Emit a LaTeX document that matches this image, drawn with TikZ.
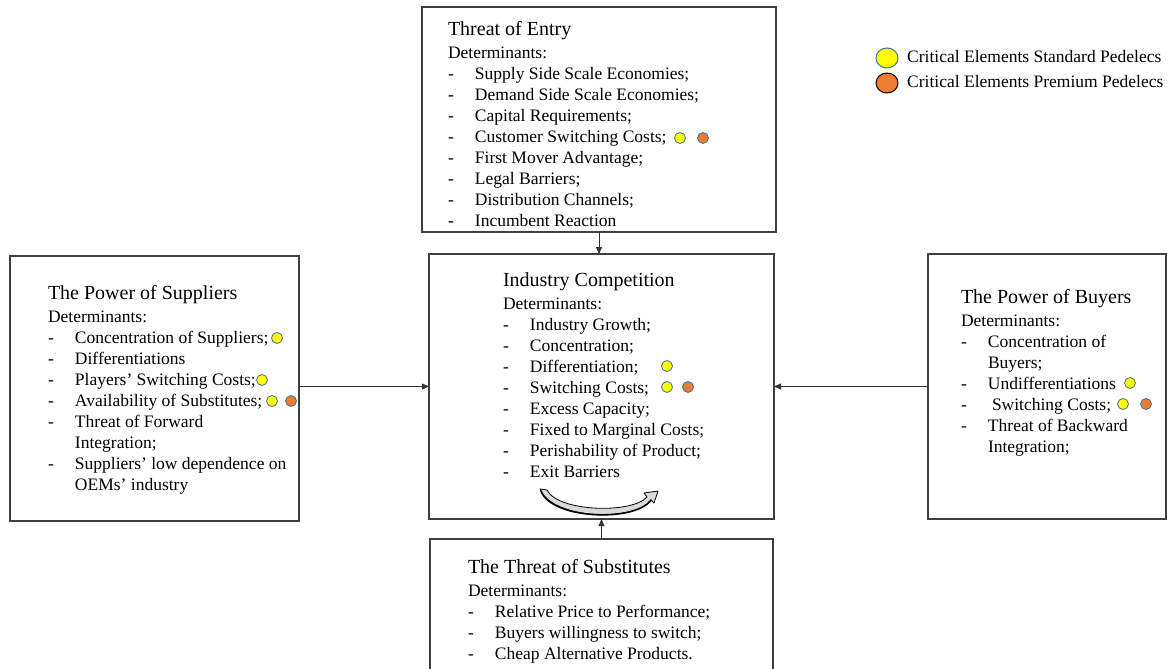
\documentclass[tikz,border=0pt]{standalone}
\usepackage{fontspec}
\setmainfont{Liberation Serif}
\usetikzlibrary{arrows.meta,shapes.geometric}

\definecolor{frame}{HTML}{3F3F3F}
\definecolor{dotyellow}{HTML}{FFFF00}
\definecolor{dotorange}{HTML}{ED7D31}
\definecolor{dotedge}{HTML}{41719C}

% heading of a force box: title, then "Determinants:"
\newcommand\forcehead[1]{{\fontsize{20}{23}\selectfont #1\par}%
  \fontsize{17.5}{23}\selectfont Determinants:\par
  \fontsize{17.5}{21}\selectfont}
% list item with a dash, and a continuation line
\newcommand\itm[1]{\noindent\makebox[27pt][l]{-}#1\par}
\newcommand\cont[1]{\noindent\hspace*{27pt}#1\par}
\newcommand\forcetext[1]{\parbox[t]{330pt}{\raggedright #1}}

\tikzset{
  forcebox/.style={draw=frame, line width=1.1pt, inner sep=0pt, outer sep=0pt},
  forcetxt/.style={inner sep=0pt, outer sep=0pt, anchor=base west},
  link/.style={draw=black!80, line width=0.8pt, -{Triangle[length=7pt,width=6pt]}},
  ydot/.style={circle, fill=dotyellow, draw=dotedge, line width=0.8pt, minimum size=11pt, inner sep=0pt},
  odot/.style={circle, fill=dotorange, draw=dotedge, line width=0.8pt, minimum size=11pt, inner sep=0pt},
  legtxt/.style={inner sep=0pt, anchor=base west, font=\fontsize{17.5}{21}\selectfont},
}

\begin{document}
\begin{tikzpicture}[x=1pt, y=-1pt]
\clip (0,0) rectangle (1171,669);

% boxes of the five forces
\node[forcebox, minimum width=354pt, minimum height=225pt] (entry) at (599,119.5) {};
\node[forcebox, minimum width=345pt, minimum height=265pt] (comp)  at (601.5,386.5) {};
\node[forcebox, minimum width=289pt, minimum height=265pt] (supp)  at (154.5,388.5) {};
\node[forcebox, minimum width=238pt, minimum height=265pt] (buy)   at (1047,386.5) {};
\node[forcebox, minimum width=343pt, minimum height=160pt] (subs)  at (601.5,619) {};

% texts
\node[forcetxt] (entryText) at (448,36) {\forcetext{\forcehead{Threat of Entry}
  \itm{Supply Side Scale Economies;}
  \itm{Demand Side Scale Economies;}
  \itm{Capital Requirements;}
  \itm{Customer Switching Costs;}
  \itm{First Mover Advantage;}
  \itm{Legal Barriers;}
  \itm{Distribution Channels;}
  \itm{Incumbent Reaction}}};

\node[forcetxt] (compText) at (503,286) {\forcetext{\forcehead{Industry Competition}
  \itm{Industry Growth;}
  \itm{Concentration;}
  \itm{Differentiation;}
  \itm{Switching Costs;}
  \itm{Excess Capacity;}
  \itm{Fixed to Marginal Costs;}
  \itm{Perishability of Product;}
  \itm{Exit Barriers}}};

\node[forcetxt] (suppText) at (48,299) {\forcetext{\forcehead{The Power of Suppliers}
  \itm{Concentration of Suppliers;}
  \itm{Differentiations}
  \itm{Players’ Switching Costs;}
  \itm{Availability of Substitutes;}
  \itm{Threat of Forward}
  \cont{Integration;}
  \itm{Suppliers’ low dependence on}
  \cont{OEMs’ industry}}};

\node[forcetxt] (buyText) at (961,303) {\forcetext{\forcehead{The Power of Buyers}
  \itm{Concentration of}
  \cont{Buyers;}
  \itm{Undifferentiations}
  \itm{\hspace*{4pt}Switching Costs;}
  \itm{Threat of Backward}
  \cont{Integration;}}};

\node[forcetxt] (subsText) at (468,573) {\forcetext{\forcehead{The Threat of Substitutes}
  \itm{Relative Price to Performance;}
  \itm{Buyers willingness to switch;}
  \itm{Cheap Alternative Products.}}};

% critical element markers
\node[ydot] (e1y) at (680,138) {};
\node[odot] (e1o) at (703,138) {};
\node[ydot] (c1y) at (667,366) {};
\node[ydot] (c2y) at (667,387) {};
\node[odot] (c2o) at (688,387) {};
\node[ydot] (s1y) at (277,338) {};
\node[ydot] (s2y) at (262,380) {};
\node[ydot] (s3y) at (272,401) {};
\node[odot] (s3o) at (291,401) {};
\node[ydot] (b1y) at (1130,383) {};
\node[ydot] (b2y) at (1123,404) {};
\node[odot] (b2o) at (1146,404) {};

% legend
\node[ellipse, fill=dotyellow, draw=dotedge, line width=1pt, minimum width=22pt, minimum height=20pt, inner sep=0pt] (legY) at (887,58) {};
\node[ellipse, fill=dotorange, draw=black, line width=1pt, minimum width=22pt, minimum height=20pt, inner sep=0pt] (legO) at (887,83) {};
\node[legtxt] (legYText) at (907,63) {Critical Elements Standard Pedelecs};
\node[legtxt] (legOText) at (907,88) {Critical Elements Premium Pedelecs};

% connectors
\draw[link] (entry.south) -- (entry.south |- comp.north);
\draw[link] (subs.north) -- (subs.north |- comp.south);
\draw[link] (supp.east |- comp.west) -- (comp.west);
\draw[link] (buy.west |- comp.east) -- (comp.east);

% curved rivalry arrow
\draw[fill=black!15, line width=0.8pt, line join=round]
  (540,489) -- (547,490) .. controls (558,512) and (632,514) .. (647,497)
  -- (644,493) -- (658,491) -- (654,503) -- (651,500)
  .. controls (636,522) and (552,520) .. (540,489) -- cycle;
\draw[line width=1.6pt, line cap=round]
  (651,500) .. controls (636,522) and (552,520) .. (541,491);
\end{tikzpicture}
\end{document}
